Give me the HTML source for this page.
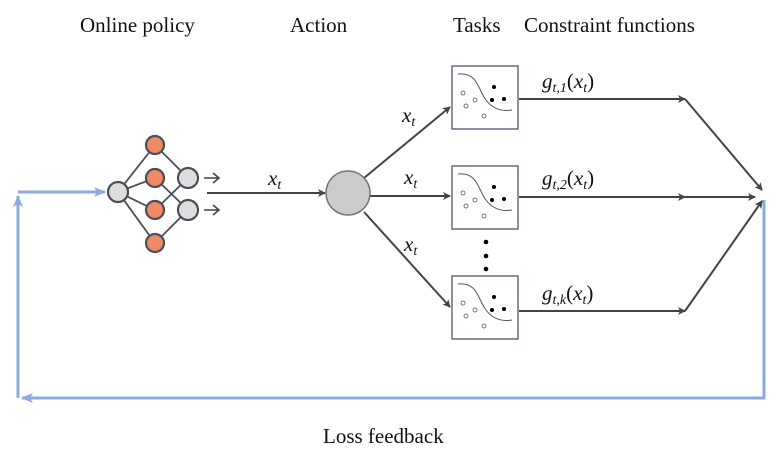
<!DOCTYPE html><html><head><style>body{margin:0;background:#fff}svg text{font-family:"Liberation Serif",serif}</style></head><body>
<svg width="782" height="455" viewBox="0 0 782 455" xmlns="http://www.w3.org/2000/svg">
<defs>
<marker id="a" markerWidth="8" markerHeight="8" refX="7" refY="4" orient="auto" markerUnits="userSpaceOnUse"><path d="M0,0 L8,4 L0,8 L2,4z" fill="#444"/></marker>
<marker id="b" markerWidth="12" markerHeight="10" refX="11" refY="5" orient="auto" markerUnits="userSpaceOnUse"><path d="M0,0 L12,5 L0,10 L3,5z" fill="#8eaadb"/></marker>
</defs>
<g font-size="21" fill="#111">
<text x="80" y="32">Online policy</text><text x="290" y="32">Action</text><text x="453" y="32">Tasks</text><text x="524" y="32">Constraint functions</text>
<text x="323" y="443">Loss feedback</text>
</g>
<g fill="none" stroke="#8eaadb" stroke-width="3">
<path d="M764,200 V398 H22" marker-end="url(#b)"/>
<path d="M18,398 V196" marker-end="url(#b)"/>
<path d="M18,192 H105" marker-end="url(#b)"/>
</g>
<g stroke="#4a4f57" stroke-width="1.8">
<line x1="118" y1="192" x2="155" y2="145"/><line x1="118" y1="192" x2="155" y2="178"/><line x1="118" y1="192" x2="155" y2="210"/><line x1="118" y1="192" x2="155" y2="243"/>
<line x1="155" y1="145" x2="188" y2="178"/><line x1="155" y1="178" x2="188" y2="210"/><line x1="155" y1="210" x2="188" y2="178"/><line x1="155" y1="243" x2="188" y2="210"/>
</g>
<g stroke="#4a4f57" stroke-width="2.2">
<circle cx="118" cy="192" r="10" fill="#ddd"/>
<circle cx="155" cy="145" r="9" fill="#f08a66"/><circle cx="155" cy="178" r="9" fill="#f08a66"/><circle cx="155" cy="210" r="9" fill="#f08a66"/><circle cx="155" cy="243" r="9" fill="#f08a66"/>
<circle cx="188" cy="178" r="10" fill="#ddd"/><circle cx="188" cy="210" r="10" fill="#ddd"/>
</g>
<g stroke="#444" stroke-width="1.6" fill="none">
<path d="M204,178 H219 M213,173 L219,178 L213,183"/>
<path d="M204,210 H219 M213,205 L219,210 L213,215"/>
</g>
<g stroke="#444" stroke-width="2" fill="none">
<line x1="207" y1="193" x2="325" y2="193" marker-end="url(#a)"/>
<line x1="364" y1="178" x2="450" y2="107" marker-end="url(#a)"/>
<line x1="370" y1="196" x2="450" y2="196" marker-end="url(#a)"/>
<line x1="364" y1="212" x2="450" y2="307" marker-end="url(#a)"/>
<line x1="519" y1="99" x2="685" y2="99" marker-end="url(#a)"/><path d="M685,99 L762,190" marker-end="url(#a)"/>
<line x1="519" y1="197" x2="685" y2="197" marker-end="url(#a)"/><line x1="685" y1="197" x2="755" y2="197" marker-end="url(#a)"/>
<line x1="519" y1="311" x2="685" y2="311" marker-end="url(#a)"/><path d="M685,311 L762,201" marker-end="url(#a)"/>
</g>
<circle cx="348" cy="193" r="22" fill="#ccc" stroke="#777" stroke-width="1.5"/>
<g font-size="21" font-style="italic" fill="#111">
<text x="268" y="185">x<tspan font-size="14" dy="4">t</tspan></text>
<text x="402" y="122">x<tspan font-size="14" dy="4">t</tspan></text>
<text x="404" y="184">x<tspan font-size="14" dy="4">t</tspan></text>
<text x="404" y="251">x<tspan font-size="14" dy="4">t</tspan></text>
<text x="542" y="88">g<tspan font-size="14" dy="4">t,1</tspan><tspan dy="-4" font-style="normal">(</tspan>x<tspan font-size="14" dy="4">t</tspan><tspan dy="-4" font-style="normal">)</tspan></text>
<text x="542" y="185">g<tspan font-size="14" dy="4">t,2</tspan><tspan dy="-4" font-style="normal">(</tspan>x<tspan font-size="14" dy="4">t</tspan><tspan dy="-4" font-style="normal">)</tspan></text>
<text x="542" y="300">g<tspan font-size="14" dy="4">t,k</tspan><tspan dy="-4" font-style="normal">(</tspan>x<tspan font-size="14" dy="4">t</tspan><tspan dy="-4" font-style="normal">)</tspan></text>
</g>
<g id="box">
<rect x="452" y="66" width="66" height="63" fill="#fff" stroke="#4a5670" stroke-width="1.3"/>
<path d="M458,74 C478,72 478,90 486,100 C492,108 500,112 512,110" fill="none" stroke="#555" stroke-width="1"/>
<g fill="#000"><circle cx="494" cy="87" r="2"/><circle cx="492" cy="100" r="2"/><circle cx="504" cy="99" r="2"/></g>
<g fill="#fff" stroke="#555" stroke-width="0.8"><circle cx="463" cy="93" r="2"/><circle cx="475" cy="100" r="2"/><circle cx="466" cy="106" r="2"/><circle cx="484" cy="116" r="2"/></g>
</g>
<use href="#box" y="100"/><use href="#box" y="210"/>
<g fill="#000"><circle cx="486" cy="242" r="2.3"/><circle cx="486" cy="256" r="2.3"/><circle cx="486" cy="269" r="2.3"/></g>
</svg>
</body></html>
